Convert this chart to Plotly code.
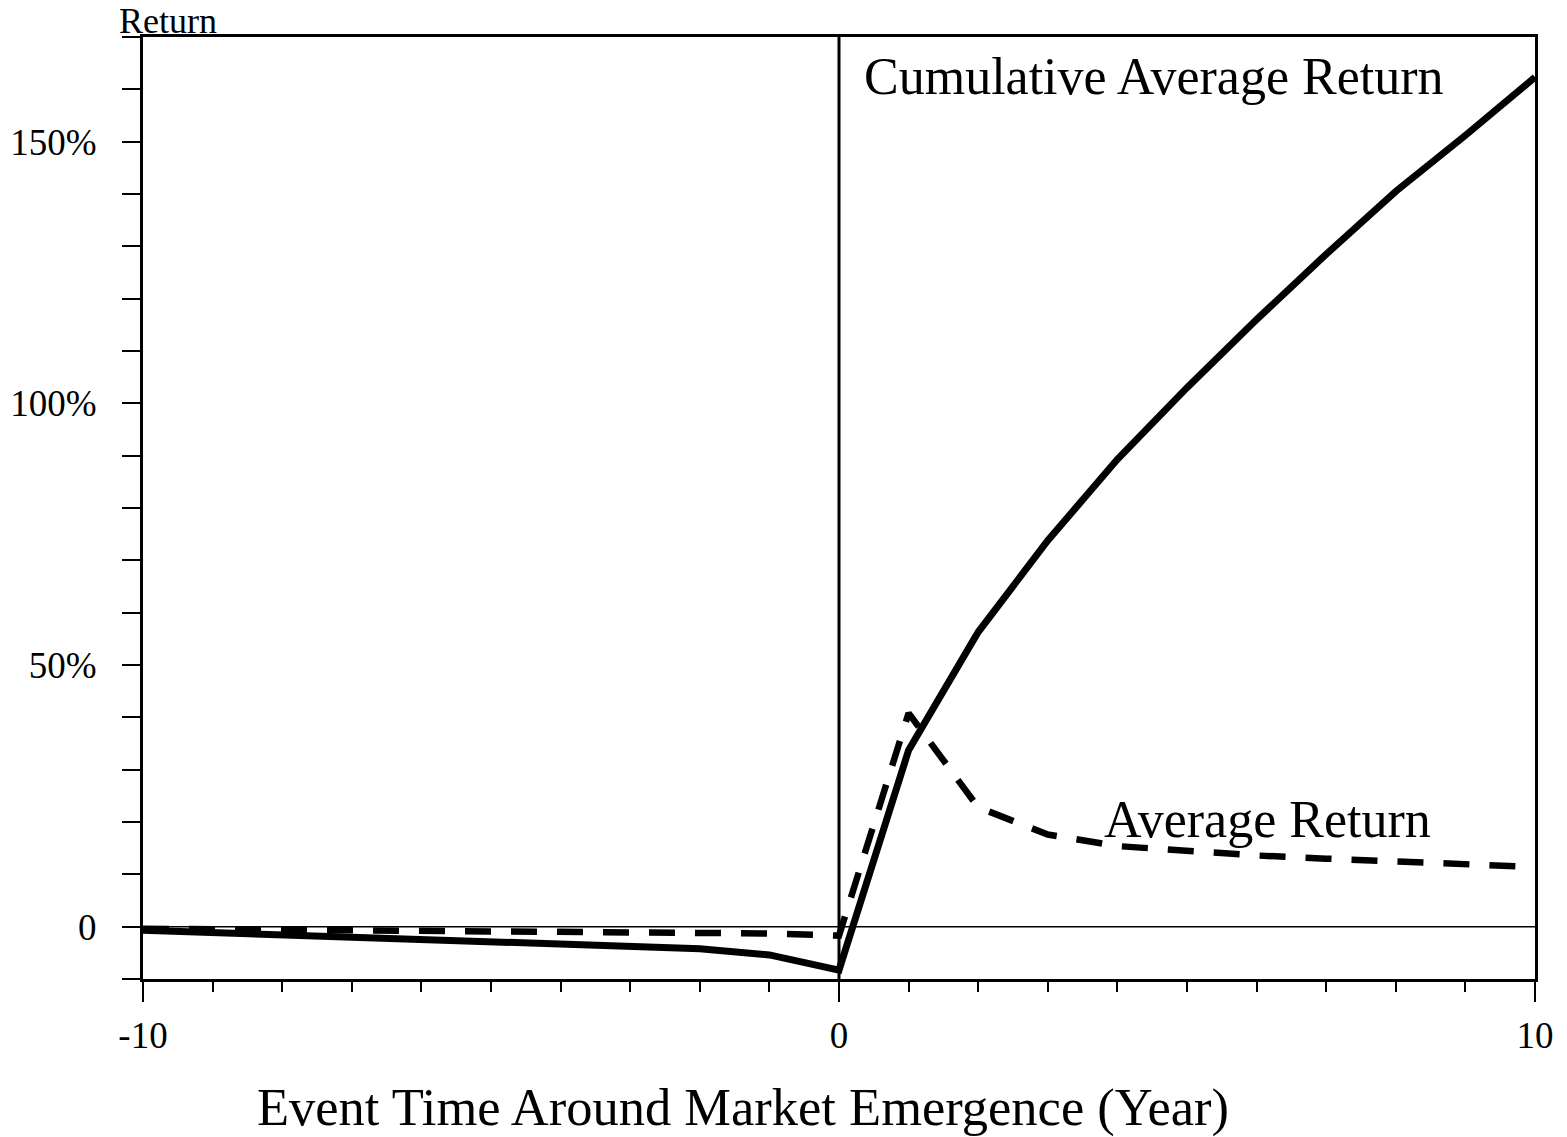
import plotly.graph_objects as go

# Event time (years around market emergence)
years = [-10, -9, -8, -7, -6, -5, -4, -3, -2, -1, 0, 1, 2, 3, 4, 5, 6, 7, 8, 9, 10]

# Cumulative average return (%), solid line
cumulative_avg_return = [-0.7, -1.1, -1.6, -2.0, -2.3, -2.7, -3.1, -3.6, -4.2, -5.4, -8.3,
                         33.7, 56.3, 73.8, 89.3, 103.0, 116.0, 128.5, 140.5, 151.2, 162.3]

# Average return (%), dashed line
average_return = [-0.4, -0.5, -0.6, -0.7, -0.7, -0.8, -0.8, -0.9, -1.0, -1.3, -1.7,
                  40.8, 22.8, 17.6, 15.4, 14.4, 13.6, 13.0, 12.5, 11.9, 11.4]

y_tick_vals = list(range(-10, 171, 10))
y_tick_labels = {0: "0", 50: "50%", 100: "100%", 150: "150%"}
x_major_ticks = [-10, 0, 10]

FONT = "Liberation Serif, Times New Roman, serif"

fig = go.Figure()
fig.add_trace(go.Scatter(x=years, y=cumulative_avg_return, mode="lines",
                         line=dict(color="black", width=7), name="Cumulative Average Return",
                         showlegend=False))
fig.add_trace(go.Scatter(x=years, y=average_return, mode="lines",
                         line=dict(color="black", width=6.5, dash="26px,20px"), name="Average Return",
                         showlegend=False))

# zero line and vertical line at event time 0
fig.add_shape(type="line", xref="x", yref="y", x0=-10, x1=10, y0=0, y1=0,
              line=dict(color="black", width=1.5), layer="below")
fig.add_shape(type="line", xref="x", yref="paper", x0=0, x1=0, y0=0, y1=1,
              line=dict(color="black", width=3), layer="below")

fig.add_annotation(x=0.33, y=162.5, xref="x", yref="y", text="Cumulative Average Return",
                   showarrow=False, xanchor="left", yanchor="middle",
                   font=dict(family=FONT, size=52, color="black"))
fig.add_annotation(x=3.78, y=20.4, xref="x", yref="y", text="Average Return",
                   showarrow=False, xanchor="left", yanchor="middle",
                   font=dict(family=FONT, size=52, color="black"))
fig.add_annotation(x=-0.018, y=1.017, xref="paper", yref="paper", text="Return",
                   showarrow=False, xanchor="left", yanchor="middle", borderpad=0,
                   font=dict(family=FONT, size=36, color="black"))
fig.add_annotation(x=0.431, y=-0.136, xref="paper", yref="paper",
                   text="Event Time Around Market Emergence (Year)",
                   showarrow=False, xanchor="center", yanchor="middle",
                   font=dict(family=FONT, size=52.5, color="black"))

# page body has an 8px margin, so the figure is sized to fit the window
fig.update_layout(
    width=1559, height=1129,
    margin=dict(l=135, r=32, t=29, b=158, autoexpand=False),
    paper_bgcolor="white", plot_bgcolor="white",
    font=dict(family=FONT, color="black", size=37),
    xaxis=dict(range=[-10, 10], tickvals=x_major_ticks, ticktext=[str(v) for v in x_major_ticks],
               ticks="outside", ticklen=20, tickwidth=2, tickcolor="black",
               minor=dict(dtick=1, tick0=0, ticks="outside", ticklen=10, tickwidth=2, tickcolor="black"),
               showline=True, linewidth=3, linecolor="black", mirror=True,
               showgrid=False, zeroline=False, ticklabelstandoff=2, automargin=False,
               tickfont=dict(family=FONT, size=37, color="black")),
    yaxis=dict(range=[-10, 170], tickvals=y_tick_vals,
               ticktext=[y_tick_labels.get(v, "") for v in y_tick_vals],
               ticks="outside", ticklen=18, tickwidth=2, tickcolor="black",
               showline=True, linewidth=3, linecolor="black", mirror=True,
               showgrid=False, zeroline=False, ticklabelstandoff=18, automargin=False,
               tickfont=dict(family=FONT, size=37, color="black")),
)

fig.write_html("out.html")
